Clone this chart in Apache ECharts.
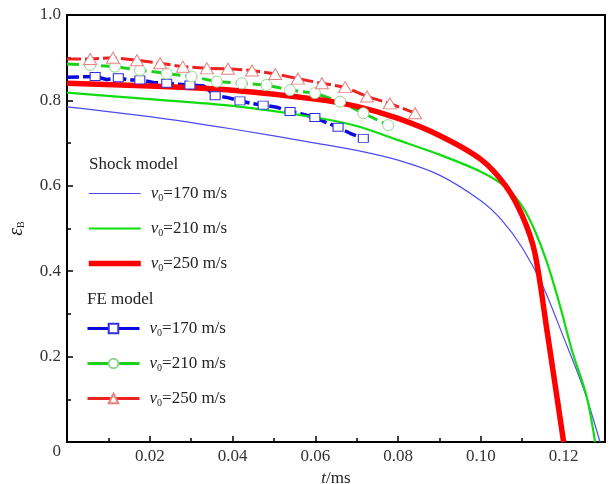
<!DOCTYPE html>
<html>
<head>
<meta charset="utf-8">
<script src="https://cdn.jsdelivr.net/npm/echarts@6/dist/echarts.min.js"></script>
<style>
  html, body { margin: 0; padding: 0; background: #fff; }
  #chart { width: 610px; height: 484px; }
</style>
</head>
<body>
<div id="chart"></div>
<script>
// 冲击模型 (Shock model) 曲线 [t/ms, εB]
const shock170 = [[0, 0.785], [0.02, 0.762], [0.04, 0.733], [0.06, 0.700], [0.07, 0.683], [0.08, 0.660],
  [0.09, 0.625], [0.10, 0.565], [0.105, 0.52], [0.11, 0.455], [0.115, 0.365], [0.12, 0.245], [0.125, 0.12], [0.1288, 0]];
const shock210 = [[0, 0.818], [0.02, 0.803], [0.04, 0.787], [0.06, 0.760], [0.07, 0.740], [0.08, 0.707],
  [0.09, 0.673], [0.10, 0.633], [0.106, 0.597], [0.11, 0.552], [0.113, 0.496], [0.116, 0.42], [0.1191, 0.32],
  [0.122, 0.215], [0.1256, 0.105], [0.1276, 0]];
const shock250 = [[0, 0.840], [0.02, 0.834], [0.04, 0.824], [0.06, 0.803], [0.07, 0.786], [0.08, 0.758],
  [0.09, 0.718], [0.10, 0.662], [0.106, 0.600], [0.11, 0.530], [0.113, 0.445], [0.116, 0.26], [0.12, 0]];

// 有限元模型 (FE model) 曲线，奇数下标处画标记
const fe170 = [[0, 0.854], [0.0068, 0.856], [0.0096, 0.849], [0.0124, 0.853], [0.0148, 0.848], [0.0176, 0.848],
  [0.0209, 0.842], [0.0241, 0.840], [0.0265, 0.838], [0.0297, 0.836], [0.033, 0.834], [0.0358, 0.811],
  [0.0386, 0.807], [0.0418, 0.799], [0.045, 0.792], [0.0474, 0.789], [0.0507, 0.784], [0.0539, 0.774],
  [0.0567, 0.768], [0.0599, 0.760], [0.0627, 0.748], [0.0655, 0.737], [0.0684, 0.723], [0.0716, 0.711]];
const fe210 = [[0, 0.885], [0.0056, 0.883], [0.0116, 0.879], [0.0176, 0.871], [0.0241, 0.863], [0.0301, 0.856],
  [0.0362, 0.844], [0.0422, 0.840], [0.0482, 0.836], [0.0539, 0.824], [0.0599, 0.817], [0.066, 0.797],
  [0.0716, 0.770], [0.0776, 0.742], [0.0797, 0.737]];
const fe250 = [[0, 0.897], [0.0056, 0.897], [0.0111, 0.900], [0.0169, 0.894], [0.0225, 0.887], [0.028, 0.879],
  [0.0338, 0.875], [0.0389, 0.874], [0.0447, 0.870], [0.0503, 0.862], [0.0558, 0.851], [0.0616, 0.840],
  [0.0672, 0.831], [0.0725, 0.809], [0.078, 0.793], [0.0841, 0.770]];

const legendText = {
  s170: '170', s210: '210', s250: '250',
  f170: '170', f210: '210', f250: '250'
};

const serif = 'Liberation Serif';

// 只在部分点上画标记
function marked(points, keep) {
  return points.map((p, i) => keep(i) ? { value: p } : { value: p, symbol: 'none' });
}

const chart = echarts.init(document.getElementById('chart'));

const legendStyle = {
  orient: 'vertical',
  left: 86,
  padding: 0,
  itemWidth: 52,
  itemHeight: 12,
  itemGap: 17,
  textStyle: {
    fontFamily: serif,
    fontSize: 17,
    color: '#222',
    padding: [0, 0, 0, 5],
    rich: {
      v: { fontFamily: serif, fontSize: 17, fontStyle: 'italic', color: '#222' },
      sub: { fontFamily: serif, fontSize: 10, color: '#222', padding: [9, 0, 0, 0] },
      t: { fontFamily: serif, fontSize: 17, color: '#222' }
    }
  },
  formatter: name => '{v|v}{sub|0}{t|=' + legendText[name] + ' m/s}'
};

// 冲击模型图例只画线，不画标记
const noMark = { opacity: 0, color: 'rgba(0,0,0,0)', borderWidth: 0 };

chart.setOption({
  animation: false,
  backgroundColor: '#fff',
  grid: {
    left: 67, right: 5, top: 15, bottom: 42,
    outerBoundsMode: 'none',
    show: true, borderColor: '#000', borderWidth: 2
  },
  graphic: [
    { type: 'text', left: 89, top: 156, style: { text: 'Shock model', font: '17px "Liberation Serif"', fill: '#222' } },
    { type: 'text', left: 87, top: 291, style: { text: 'FE model', font: '17px "Liberation Serif"', fill: '#222' } }
  ],
  legend: [
    Object.assign({
      top: 185,
      data: [
        { name: 's170', itemStyle: noMark, lineStyle: { width: 1.2 } },
        { name: 's210', itemStyle: noMark, lineStyle: { width: 2.2 } },
        { name: 's250', itemStyle: noMark, lineStyle: { width: 5.5 } }
      ]
    }, legendStyle),
    Object.assign({
      top: 320,
      data: ['f170', 'f210', 'f250'].map(n => ({ name: n, lineStyle: { width: 3, type: 'solid' } }))
    }, legendStyle)
  ],
  xAxis: {
    type: 'value',
    min: 0,
    max: 0.13,
    interval: 0.02,
    name: '{i|t}/ms',
    nameLocation: 'middle',
    nameGap: 25,
    nameTextStyle: {
      fontFamily: serif, fontSize: 17, color: '#222',
      rich: { i: { fontFamily: serif, fontSize: 17, fontStyle: 'italic', color: '#222' } }
    },
    axisLine: { lineStyle: { color: '#000', width: 2 } },
    axisTick: { inside: true, length: 6, lineStyle: { color: '#000', width: 1.5 } },
    minorTick: { show: true, splitNumber: 2, length: 4, lineStyle: { color: '#000', width: 1.5 } },
    axisLabel: {
      showMinLabel: false, showMaxLabel: false, margin: 6,
      fontFamily: serif, fontSize: 17, color: '#333',
      formatter: v => v.toFixed(2)
    },
    splitLine: { show: false }
  },
  yAxis: {
    type: 'value',
    min: 0,
    max: 1,
    interval: 0.2,
    name: '{e|ε}{b|B}',
    nameLocation: 'middle',
    nameRotate: 90,
    nameGap: 40,
    nameTextStyle: {
      rich: {
        e: { fontFamily: serif, fontSize: 20, fontStyle: 'italic', color: '#222' },
        b: { fontFamily: serif, fontSize: 10, color: '#222', padding: [9, 0, 0, 0] }
      }
    },
    axisLine: { lineStyle: { color: '#000', width: 2 } },
    axisTick: { inside: true, length: 6, lineStyle: { color: '#000', width: 1.5 } },
    minorTick: { show: true, splitNumber: 2, length: 4, lineStyle: { color: '#000', width: 1.5 } },
    axisLabel: {
      margin: 6,
      fontFamily: serif, fontSize: 17, color: '#333',
      formatter: v => v === 0 ? '{z|0}' : v.toFixed(1),
      rich: { z: { fontFamily: serif, fontSize: 17, color: '#333', padding: [20, 0, 0, 0] } }
    },
    splitLine: { show: false }
  },
  series: [
    {
      name: 'f170', type: 'line', data: marked(fe170, i => i % 2 === 1),
      symbol: 'rect', symbolSize: [10, 8],
      lineStyle: { color: '#0a0adf', width: 3.5, type: [12, 4] },
      itemStyle: { color: '#fff', borderColor: '#3030e0', borderWidth: 1 }
    },
    {
      name: 'f210', type: 'line', data: marked(fe210, i => i > 0 && i < fe210.length - 1),
      symbol: 'circle', symbolSize: 11,
      lineStyle: { color: '#1ed01e', width: 3, type: [12, 5] },
      itemStyle: { color: '#fff', borderColor: '#90d890', borderWidth: 1 }
    },
    {
      name: 'f250', type: 'line', data: marked(fe250, i => i > 0),
      symbol: 'triangle', symbolSize: [13, 11],
      lineStyle: { color: '#ee2222', width: 3, type: [14, 4] },
      itemStyle: { color: '#fff', borderColor: '#e88080', borderWidth: 1 }
    },
    {
      name: 's170', type: 'line', data: shock170, smooth: 0.3, symbol: 'none',
      lineStyle: { color: '#4b4bf0', width: 1.2 }
    },
    {
      name: 's210', type: 'line', data: shock210, smooth: 0.3, symbol: 'none',
      lineStyle: { color: '#10dd10', width: 2.2 }
    },
    {
      name: 's250', type: 'line', data: shock250, smooth: 0.3, symbol: 'none',
      lineStyle: { color: '#ff0000', width: 5.5 }
    }
  ]
});
</script>
</body>
</html>
